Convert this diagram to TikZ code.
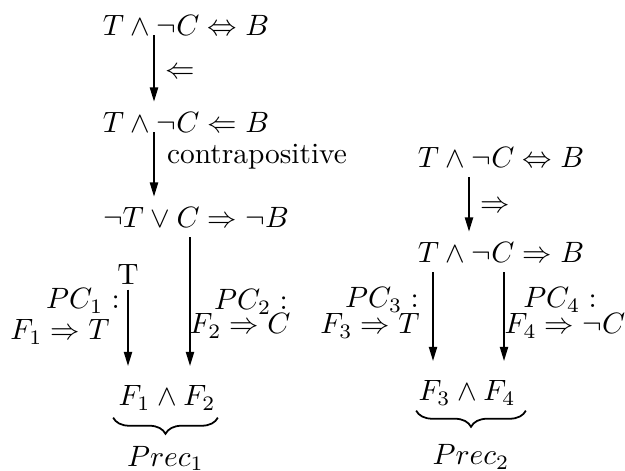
\documentclass[tikz,border=0pt]{standalone}
\usepackage{amsmath,amssymb}
\usepackage{tikz}
\usetikzlibrary{positioning,arrows.meta,calc,decorations.pathreplacing}

\begin{document}
\begin{tikzpicture}[
  x=0.34pt,y=-0.34pt,
  every node/.style={font=\normalsize},
  formula/.style={inner sep=3.33pt},
  lbl/.style={inner sep=0pt},
  arrow/.style={-{Triangle[length=4.8pt,width=2.8pt]},line width=0.5pt},
  gaparrow/.style={arrow,shorten >=3.2pt},
  curly/.style={decorate,decoration={brace,mirror,amplitude=5.5pt},line width=0.6pt}
]
  \useasboundingbox (0,0) rectangle (625,470);
  \node[formula] (iff1) at (186,25) {$T \wedge \neg C \Leftrightarrow B$};
  \node[formula] (if1) at (186,122) {$T \wedge \neg C \Leftarrow B$};
  \node[formula] (contra) at (196,217) {$\neg T \vee C \Rightarrow \neg B$};
  \node[formula] (prod1) at (167,398) {$F_1 \wedge F_2$};
  \node[formula] (iff2) at (501,157) {$T \wedge \neg C \Leftrightarrow B$};
  \node[formula] (if2) at (501,252) {$T \wedge \neg C \Rightarrow B$};
  \node[formula] (prod2) at (467,393) {$F_3 \wedge F_4$};
  \node[lbl] (rev) at (180,73) {$\Leftarrow$};
  \node[lbl] (cp) at (257,157) {contrapositive};
  \node[lbl] (fwd) at (495,207) {$\Rightarrow$};
  \node[lbl] (tlab) at (128,275) {T};
  \node[lbl] (pc1) at (83,301) {$PC_1 :$};
  \node[lbl] (f1) at (60,332) {$F_1 \Rightarrow T$};
  \node[lbl] (pc2) at (251,302) {$PC_2 :$};
  \node[lbl] (f2) at (240,326) {$F_2 \Rightarrow C$};
  \node[lbl] (pc3) at (382,300) {$PC_3 :$};
  \node[lbl] (f3) at (370,326) {$F_3 \Rightarrow T$};
  \node[lbl] (pc4) at (560,300) {$PC_4 :$};
  \node[lbl] (f4) at (565,326) {$F_4 \Rightarrow \neg C$};
  \draw[arrow] ($(iff1.base)+(-32,0)$) -- ($(if1.north)+(-32,0)$);
  \draw[arrow] ($(if1.base)+(-32,0)$) -- ($(contra.north)+(-42,0)$);
  \draw[gaparrow] ($(contra.south)+(-6,0)$) -- ($(prod1.north)+(23,0)$);
  \draw[gaparrow] ($(tlab.south)+(0,4)$) -- (tlab.south |- prod1.north);
  \draw[arrow] ($(iff2.south)+(-32,0)$) -- ($(if2.north)+(-32,0)$);
  \draw[gaparrow] ($(if2.south)+(-68,0)$) -- ($(prod2.north)+(-34,0)$);
  \draw[gaparrow] ($(if2.south)+(3,0)$) -- ($(prod2.north)+(37,0)$);
  \draw[curly] ($(prod1.south west)+(5,-3)$) -- node[below=6pt] (prec1) {$Prec_1$} ($(prod1.south east)+(-8,-3)$);
  \draw[curly] ($(prod2.south west)+(8,-5)$) -- node[below=8pt] (prec2) {$Prec_2$} ($(prod2.south east)+(0,-5)$);
\end{tikzpicture}
\end{document}
